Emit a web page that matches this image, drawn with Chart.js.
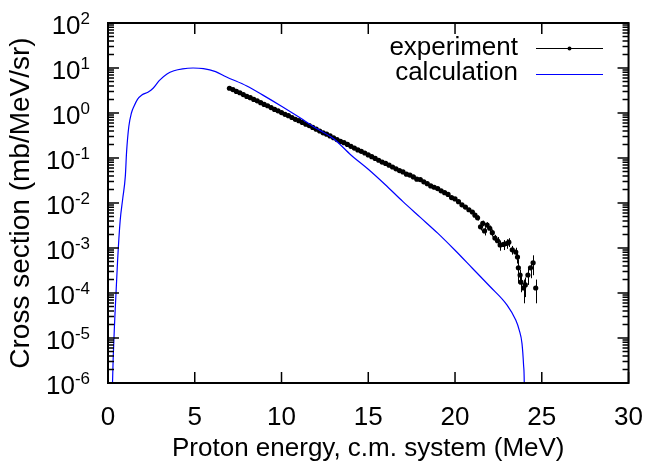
<!DOCTYPE html>
<html>
<head>
<meta charset="utf-8">
<script src="https://cdn.jsdelivr.net/npm/chart.js@4.4.0/dist/chart.umd.min.js"></script>
<style>
  html, body { margin: 0; padding: 0; background: #fff; }
</style>
</head>
<body>
<canvas id="chart" width="654" height="461"></canvas>
<script>
// measured spectrum (MeV, mb/MeV/sr, abs. error)
var energy_exp = [
  7.0, 7.2, 7.4, 7.6, 7.8, 8.0, 8.2, 8.4, 8.6, 8.8,
  9.0, 9.2, 9.4, 9.6, 9.8, 10.0, 10.2, 10.4, 10.6, 10.8,
  11.0, 11.2, 11.4, 11.6, 11.8, 12.0, 12.2, 12.4, 12.6, 12.8,
  13.0, 13.2, 13.4, 13.6, 13.8, 14.0, 14.2, 14.4, 14.6, 14.8,
  15.0, 15.2, 15.4, 15.6, 15.8, 16.0, 16.2, 16.4, 16.6, 16.8,
  17.0, 17.2, 17.4, 17.6, 17.8, 18.0, 18.2, 18.4, 18.6, 18.8,
  19.0, 19.2, 19.4, 19.6, 19.8, 20.0, 20.2, 20.4, 20.6, 20.8,
  21.0, 21.15, 21.3, 21.47, 21.6, 21.7, 21.85, 22.0, 22.15, 22.3,
  22.45, 22.6, 22.8, 22.98, 23.1, 23.3, 23.5, 23.6, 23.65, 23.75,
  23.8, 23.95, 24.05, 24.2, 24.35, 24.5, 24.65
];
var xs_exp = [
  3.55, 3.31, 3.02, 2.82, 2.57, 2.34, 2.19, 2.00, 1.86, 1.70,
  1.55, 1.45, 1.32, 1.20, 1.12, 1.02, 0.933, 0.871, 0.794, 0.724,
  0.676, 0.617, 0.562, 0.525, 0.479, 0.437, 0.398, 0.363, 0.339, 0.309,
  0.282, 0.257, 0.234, 0.219, 0.200, 0.182, 0.166, 0.151, 0.141, 0.129,
  0.117, 0.107, 0.0977, 0.0891, 0.0813, 0.0759, 0.0692, 0.0631, 0.0575, 0.0525,
  0.0490, 0.0437, 0.0417, 0.0380, 0.0339, 0.0331, 0.0295, 0.0269, 0.0240, 0.0224,
  0.0209, 0.0186, 0.0170, 0.0155, 0.0132, 0.0123, 0.0107, 0.00912, 0.00813, 0.00708,
  0.00631, 0.00537, 0.00468, 0.00295, 0.00355, 0.00240, 0.00324, 0.00275, 0.00219, 0.00166,
  0.00145, 0.00117, 0.00120, 0.00126, 0.00135, 0.000912, 0.000813, 0.000631, 0.000363, 0.000251,
  0.000174, 0.000129, 0.000151, 0.000251, 0.000363, 0.000468, 0.000129
];
var err_exp = [
  0.07, 0.07, 0.06, 0.06, 0.05, 0.05, 0.04, 0.04, 0.04, 0.03,
  0.03, 0.03, 0.03, 0.02, 0.02, 0.02, 0.02, 0.02, 0.02, 0.015,
  0.014, 0.012, 0.011, 0.011, 0.010, 0.009, 0.008, 0.008, 0.007, 0.007,
  0.006, 0.006, 0.005, 0.005, 0.005, 0.004, 0.004, 0.004, 0.003, 0.003,
  0.003, 0.003, 0.0025, 0.0025, 0.0023, 0.0022, 0.002, 0.002, 0.002, 0.0019,
  0.0018, 0.0017, 0.0016, 0.0015, 0.0014, 0.0014, 0.0013, 0.0012, 0.0012, 0.0011,
  0.0011, 0.0010, 0.0010, 0.0009, 0.0009, 0.0009, 0.0008, 0.0008, 0.0007, 0.0007,
  0.0006, 0.0006, 0.0006, 0.0005, 0.0005, 0.0005, 0.0005, 0.0004, 0.0004, 0.0003,
  0.0003, 0.0003, 0.0003, 0.0003, 0.0003, 0.0002, 0.0002, 0.00018, 0.0002, 0.00008,
  0.00007, 0.00007, 0.00007, 0.0001, 0.00015, 0.00022, 0.00007
];

// model calculation
var energy_calc = [
  0.22, 0.26, 0.4, 0.55, 0.7, 0.85, 1.0, 1.07, 1.2, 1.35,
  1.5, 1.7, 1.95, 2.3, 2.6, 2.95, 3.4, 3.8, 4.3, 4.9,
  5.5, 6.2, 6.8, 8.0, 9.0, 10.0, 11.0, 12.0, 13.0, 14.0,
  15.0, 16.0, 17.0, 18.0, 19.0, 20.0, 21.0, 22.0, 23.0, 23.5,
  23.7, 23.86, 23.95, 23.99, 24.01
];
var xs_calc = [
  1e-7, 1e-6, 3.2e-5, 5e-4, 0.004, 0.0126, 0.04, 0.135, 0.5, 1.0,
  1.41, 2.0, 2.5, 2.9, 3.55, 5.25, 7.4, 8.7, 9.6, 10.0,
  9.7, 8.3, 6.4, 3.98, 2.4, 1.41, 0.81, 0.457, 0.269, 0.117,
  0.0562, 0.0251, 0.0107, 0.00479, 0.00214, 0.000891, 0.000355, 0.000141, 0.0000537, 0.000025,
  0.000015, 0.0000075, 0.0000025, 1e-6, 1e-7
];

var x_ticks = [0, 5, 10, 15, 20, 25, 30];
var y_decades = [-6, -5, -4, -3, -2, -1, 0, 1, 2];
var legend_labels = ['experiment', 'calculation'];

var FONT = '"Liberation Sans", Arial, sans-serif';

function pairs(xv, yv) {
    return xv.map(function (v, i) { return {x: v, y: yv[i]}; });
}

var gnuplot_frame = {
    id: 'gnuplot_frame',
    beforeDatasetsDraw: function (chart) {
        var ctx = chart.ctx, a = chart.chartArea;
        var sx = chart.scales.x, sy = chart.scales.y;
        ctx.save();
        ctx.beginPath();
        ctx.rect(a.left, a.top, a.right - a.left, a.bottom - a.top);
        ctx.clip();
        ctx.strokeStyle = '#000';
        ctx.lineWidth = 1;
        ctx.beginPath();
        for (var i = 0; i < energy_exp.length; i++) {
            var px = Math.round(sx.getPixelForValue(energy_exp[i])) + 0.5;
            var hi = sy.getPixelForValue(xs_exp[i] + err_exp[i]);
            var lo_v = xs_exp[i] - err_exp[i];
            var lo = lo_v > 0 ? sy.getPixelForValue(lo_v) : a.bottom;
            ctx.moveTo(px, hi);
            ctx.lineTo(px, lo);
        }
        ctx.stroke();
        ctx.restore();
    },
    afterDraw: function (chart) {
        var ctx = chart.ctx, a = chart.chartArea;
        var sx = chart.scales.x, sy = chart.scales.y;
        ctx.save();
        ctx.strokeStyle = '#000';
        ctx.lineWidth = 1.5;
        ctx.beginPath();
        // x ticks, bottom and top
        x_ticks.forEach(function (v) {
            var px = sx.getPixelForValue(v);
            ctx.moveTo(px, a.bottom); ctx.lineTo(px, a.bottom - 11);
            ctx.moveTo(px, a.top); ctx.lineTo(px, a.top + 11);
        });
        // y ticks, left and right, with log minors
        y_decades.forEach(function (d) {
            var py = sy.getPixelForValue(Math.pow(10, d));
            ctx.moveTo(a.left, py); ctx.lineTo(a.left + 11, py);
            ctx.moveTo(a.right, py); ctx.lineTo(a.right - 11, py);
            if (d < 2) {
                for (var k = 2; k <= 9; k++) {
                    var pm = sy.getPixelForValue(k * Math.pow(10, d));
                    ctx.moveTo(a.left, pm); ctx.lineTo(a.left + 6, pm);
                    ctx.moveTo(a.right, pm); ctx.lineTo(a.right - 6, pm);
                }
            }
        });
        ctx.stroke();
        ctx.lineWidth = 2;
        ctx.strokeRect(a.left, a.top, a.right - a.left, a.bottom - a.top);

        // y tick labels as 10^n
        ctx.fillStyle = '#000';
        y_decades.forEach(function (d) {
            var py = sy.getPixelForValue(Math.pow(10, d));
            var ex = String(d);
            ctx.font = '17px ' + FONT;
            var ew = ctx.measureText(ex).width;
            var right = a.left - 18;
            ctx.textAlign = 'left';
            ctx.textBaseline = 'alphabetic';
            ctx.fillText(ex, right - ew, py + 1);
            ctx.font = '26px ' + FONT;
            ctx.textAlign = 'right';
            ctx.fillText('10', right - ew, py + 11);
        });

        // legend, gnuplot style: text then sample
        ctx.font = '26px ' + FONT;
        ctx.textAlign = 'right';
        ctx.textBaseline = 'middle';
        ctx.fillText(legend_labels[0], 518, 48);
        ctx.fillText(legend_labels[1], 518, 73);
        ctx.lineWidth = 1;
        ctx.strokeStyle = '#000';
        ctx.beginPath();
        ctx.moveTo(536, 48.5); ctx.lineTo(603, 48.5);
        ctx.stroke();
        ctx.beginPath();
        ctx.arc(569.5, 48.5, 2, 0, Math.PI * 2);
        ctx.fill();
        ctx.strokeStyle = '#0000ff';
        ctx.beginPath();
        ctx.moveTo(536, 74.5); ctx.lineTo(603, 74.5);
        ctx.stroke();
        ctx.restore();
    }
};

var chart_data = {
    datasets: [
        {
            label: legend_labels[0],
            data: pairs(energy_exp, xs_exp),
            showLine: false,
            pointRadius: 2.6,
            pointBackgroundColor: '#000',
            pointBorderWidth: 0,
            order: 1
        },
        {
            label: legend_labels[1],
            data: pairs(energy_calc, xs_calc),
            showLine: true,
            borderColor: '#0000ff',
            borderWidth: 1.2,
            pointRadius: 0,
            cubicInterpolationMode: 'monotone',
            order: 0
        }
    ]
};

var chart_options = {
    responsive: false,
    animation: false,
    devicePixelRatio: 1,
    layout: {padding: {top: 23, right: 21, left: 0, bottom: 0}},
    plugins: {
        legend: {display: false},
        tooltip: {enabled: false}
    },
    scales: {
        x: {
            type: 'linear',
            min: 0,
            max: 30,
            afterFit: function (s) { s.height = 78; },
            grid: {display: false},
            border: {display: false},
            ticks: {
                stepSize: 5,
                color: '#000',
                padding: 11,
                font: {family: FONT, size: 26}
            },
            title: {
                display: true,
                text: 'Proton energy, c.m. system (MeV)',
                color: '#000',
                padding: {top: 0, bottom: -1},
                font: {family: FONT, size: 26, lineHeight: 1}
            }
        },
        y: {
            type: 'logarithmic',
            min: 1e-6,
            max: 100,
            afterFit: function (s) { s.width = 108; },
            grid: {display: false},
            border: {display: false},
            ticks: {display: false},
            title: {
                display: true,
                text: 'Cross section (mb/MeV/sr)',
                color: '#000',
                padding: {top: 7, bottom: 0},
                font: {family: FONT, size: 28, lineHeight: 1}
            }
        }
    }
};

new Chart(document.getElementById('chart'), {
    type: 'scatter',
    data: chart_data,
    options: chart_options,
    plugins: [gnuplot_frame]
});
</script>
</body>
</html>
